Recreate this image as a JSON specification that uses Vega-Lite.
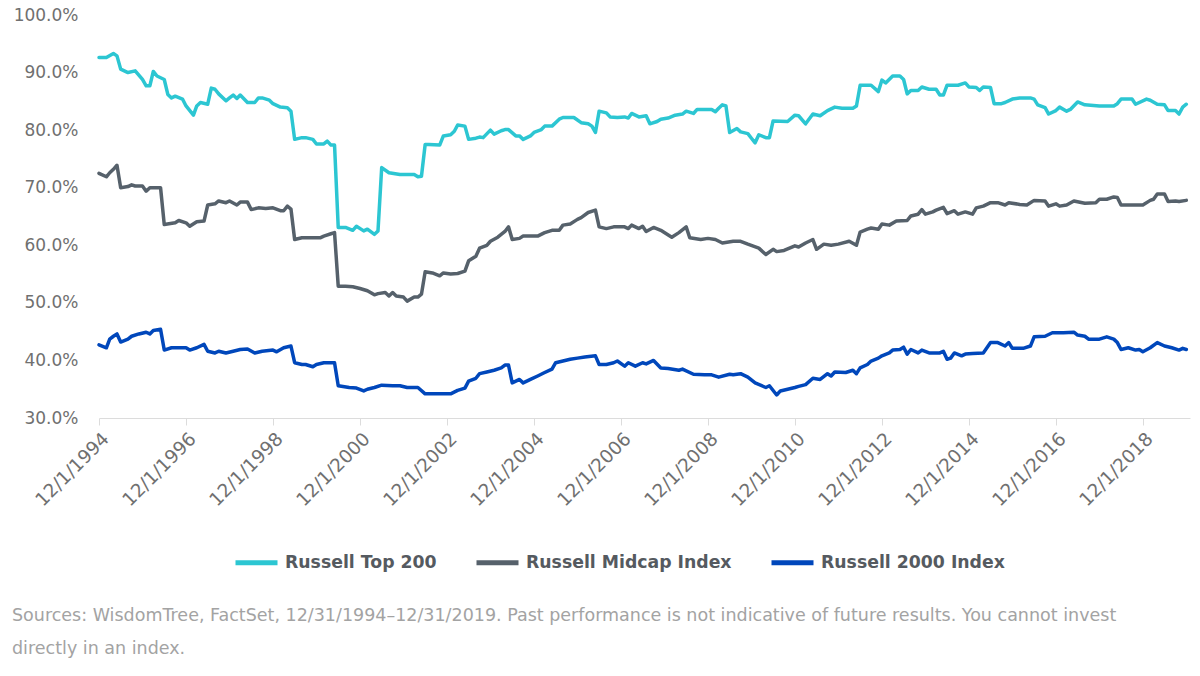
{
  "$schema": "https://vega.github.io/schema/vega-lite/v6.json",
  "width": 1091,
  "height": 403,
  "autosize": "none",
  "padding": {"left": 99, "top": 15, "right": 10, "bottom": 258},
  "background": "#ffffff",
  "config": {
    "view": {"stroke": null},
    "font": "DejaVu Sans"
  },
  "title": {
    "text": ["Sources: WisdomTree, FactSet, 12/31/1994–12/31/2019. Past performance is not indicative of future results. You cannot invest", "directly in an index."],
    "orient": "bottom",
    "anchor": "start",
    "frame": "group",
    "font": "DejaVu Sans",
    "fontSize": 17.5,
    "fontWeight": "normal",
    "color": "#a3a3a3",
    "lineHeight": 33,
    "offset": 34,
    "dx": -87
  },
  "data": {
    "values": [
      {"s": "Russell Top 200", "d": "1994-12", "v": 92.6},
      {"s": "Russell Top 200", "d": "1995-02", "v": 92.6},
      {"s": "Russell Top 200", "d": "1995-04", "v": 93.3},
      {"s": "Russell Top 200", "d": "1995-05", "v": 92.9},
      {"s": "Russell Top 200", "d": "1995-06", "v": 90.6},
      {"s": "Russell Top 200", "d": "1995-08", "v": 90.0},
      {"s": "Russell Top 200", "d": "1995-10", "v": 90.3},
      {"s": "Russell Top 200", "d": "1995-12", "v": 88.8},
      {"s": "Russell Top 200", "d": "1996-01", "v": 87.7},
      {"s": "Russell Top 200", "d": "1996-02", "v": 87.7},
      {"s": "Russell Top 200", "d": "1996-03", "v": 90.2},
      {"s": "Russell Top 200", "d": "1996-04", "v": 89.4},
      {"s": "Russell Top 200", "d": "1996-06", "v": 88.8},
      {"s": "Russell Top 200", "d": "1996-07", "v": 86.2},
      {"s": "Russell Top 200", "d": "1996-08", "v": 85.6},
      {"s": "Russell Top 200", "d": "1996-09", "v": 85.9},
      {"s": "Russell Top 200", "d": "1996-11", "v": 85.4},
      {"s": "Russell Top 200", "d": "1996-12", "v": 84.2},
      {"s": "Russell Top 200", "d": "1997-02", "v": 82.6},
      {"s": "Russell Top 200", "d": "1997-03", "v": 84.2},
      {"s": "Russell Top 200", "d": "1997-04", "v": 84.8},
      {"s": "Russell Top 200", "d": "1997-06", "v": 84.5},
      {"s": "Russell Top 200", "d": "1997-07", "v": 87.3},
      {"s": "Russell Top 200", "d": "1997-08", "v": 87.1},
      {"s": "Russell Top 200", "d": "1997-09", "v": 86.3},
      {"s": "Russell Top 200", "d": "1997-11", "v": 85.1},
      {"s": "Russell Top 200", "d": "1997-12", "v": 85.6},
      {"s": "Russell Top 200", "d": "1998-01", "v": 86.1},
      {"s": "Russell Top 200", "d": "1998-02", "v": 85.5},
      {"s": "Russell Top 200", "d": "1998-03", "v": 86.1},
      {"s": "Russell Top 200", "d": "1998-05", "v": 84.8},
      {"s": "Russell Top 200", "d": "1998-07", "v": 84.8},
      {"s": "Russell Top 200", "d": "1998-08", "v": 85.6},
      {"s": "Russell Top 200", "d": "1998-09", "v": 85.6},
      {"s": "Russell Top 200", "d": "1998-11", "v": 85.2},
      {"s": "Russell Top 200", "d": "1998-12", "v": 84.6},
      {"s": "Russell Top 200", "d": "1999-02", "v": 84.0},
      {"s": "Russell Top 200", "d": "1999-04", "v": 83.9},
      {"s": "Russell Top 200", "d": "1999-05", "v": 83.3},
      {"s": "Russell Top 200", "d": "1999-06", "v": 78.4},
      {"s": "Russell Top 200", "d": "1999-08", "v": 78.7},
      {"s": "Russell Top 200", "d": "1999-09", "v": 78.7},
      {"s": "Russell Top 200", "d": "1999-11", "v": 78.4},
      {"s": "Russell Top 200", "d": "1999-12", "v": 77.6},
      {"s": "Russell Top 200", "d": "2000-02", "v": 77.6},
      {"s": "Russell Top 200", "d": "2000-03", "v": 78.1},
      {"s": "Russell Top 200", "d": "2000-04", "v": 77.4},
      {"s": "Russell Top 200", "d": "2000-05", "v": 77.4},
      {"s": "Russell Top 200", "d": "2000-06", "v": 63.1},
      {"s": "Russell Top 200", "d": "2000-08", "v": 63.1},
      {"s": "Russell Top 200", "d": "2000-10", "v": 62.6},
      {"s": "Russell Top 200", "d": "2000-11", "v": 63.3},
      {"s": "Russell Top 200", "d": "2001-01", "v": 62.5},
      {"s": "Russell Top 200", "d": "2001-02", "v": 62.8},
      {"s": "Russell Top 200", "d": "2001-04", "v": 61.9},
      {"s": "Russell Top 200", "d": "2001-05", "v": 62.5},
      {"s": "Russell Top 200", "d": "2001-06", "v": 73.5},
      {"s": "Russell Top 200", "d": "2001-08", "v": 72.6},
      {"s": "Russell Top 200", "d": "2001-11", "v": 72.3},
      {"s": "Russell Top 200", "d": "2002-03", "v": 72.3},
      {"s": "Russell Top 200", "d": "2002-04", "v": 71.9},
      {"s": "Russell Top 200", "d": "2002-05", "v": 72.0},
      {"s": "Russell Top 200", "d": "2002-06", "v": 77.5},
      {"s": "Russell Top 200", "d": "2002-07", "v": 77.5},
      {"s": "Russell Top 200", "d": "2002-10", "v": 77.4},
      {"s": "Russell Top 200", "d": "2002-11", "v": 79.0},
      {"s": "Russell Top 200", "d": "2003-01", "v": 79.2},
      {"s": "Russell Top 200", "d": "2003-02", "v": 79.8},
      {"s": "Russell Top 200", "d": "2003-03", "v": 80.9},
      {"s": "Russell Top 200", "d": "2003-05", "v": 80.7},
      {"s": "Russell Top 200", "d": "2003-06", "v": 78.4},
      {"s": "Russell Top 200", "d": "2003-08", "v": 78.6},
      {"s": "Russell Top 200", "d": "2003-09", "v": 78.8},
      {"s": "Russell Top 200", "d": "2003-10", "v": 78.7},
      {"s": "Russell Top 200", "d": "2003-12", "v": 80.0},
      {"s": "Russell Top 200", "d": "2004-01", "v": 79.3},
      {"s": "Russell Top 200", "d": "2004-03", "v": 79.9},
      {"s": "Russell Top 200", "d": "2004-04", "v": 80.1},
      {"s": "Russell Top 200", "d": "2004-05", "v": 80.1},
      {"s": "Russell Top 200", "d": "2004-07", "v": 79.0},
      {"s": "Russell Top 200", "d": "2004-08", "v": 79.0},
      {"s": "Russell Top 200", "d": "2004-09", "v": 78.4},
      {"s": "Russell Top 200", "d": "2004-11", "v": 79.0},
      {"s": "Russell Top 200", "d": "2004-12", "v": 79.6},
      {"s": "Russell Top 200", "d": "2005-02", "v": 80.1},
      {"s": "Russell Top 200", "d": "2005-03", "v": 80.7},
      {"s": "Russell Top 200", "d": "2005-05", "v": 80.7},
      {"s": "Russell Top 200", "d": "2005-07", "v": 81.9},
      {"s": "Russell Top 200", "d": "2005-08", "v": 82.2},
      {"s": "Russell Top 200", "d": "2005-11", "v": 82.2},
      {"s": "Russell Top 200", "d": "2006-01", "v": 81.3},
      {"s": "Russell Top 200", "d": "2006-03", "v": 81.1},
      {"s": "Russell Top 200", "d": "2006-04", "v": 80.7},
      {"s": "Russell Top 200", "d": "2006-05", "v": 79.6},
      {"s": "Russell Top 200", "d": "2006-06", "v": 83.3},
      {"s": "Russell Top 200", "d": "2006-08", "v": 83.0},
      {"s": "Russell Top 200", "d": "2006-09", "v": 82.3},
      {"s": "Russell Top 200", "d": "2006-11", "v": 82.2},
      {"s": "Russell Top 200", "d": "2007-01", "v": 82.3},
      {"s": "Russell Top 200", "d": "2007-02", "v": 82.1},
      {"s": "Russell Top 200", "d": "2007-03", "v": 82.9},
      {"s": "Russell Top 200", "d": "2007-05", "v": 82.3},
      {"s": "Russell Top 200", "d": "2007-07", "v": 82.5},
      {"s": "Russell Top 200", "d": "2007-08", "v": 81.1},
      {"s": "Russell Top 200", "d": "2007-10", "v": 81.5},
      {"s": "Russell Top 200", "d": "2007-11", "v": 81.9},
      {"s": "Russell Top 200", "d": "2008-01", "v": 82.1},
      {"s": "Russell Top 200", "d": "2008-03", "v": 82.6},
      {"s": "Russell Top 200", "d": "2008-05", "v": 82.8},
      {"s": "Russell Top 200", "d": "2008-06", "v": 83.3},
      {"s": "Russell Top 200", "d": "2008-08", "v": 82.9},
      {"s": "Russell Top 200", "d": "2008-09", "v": 83.6},
      {"s": "Russell Top 200", "d": "2009-01", "v": 83.6},
      {"s": "Russell Top 200", "d": "2009-02", "v": 83.2},
      {"s": "Russell Top 200", "d": "2009-03", "v": 83.8},
      {"s": "Russell Top 200", "d": "2009-04", "v": 84.4},
      {"s": "Russell Top 200", "d": "2009-05", "v": 84.2},
      {"s": "Russell Top 200", "d": "2009-06", "v": 79.6},
      {"s": "Russell Top 200", "d": "2009-08", "v": 80.3},
      {"s": "Russell Top 200", "d": "2009-09", "v": 79.7},
      {"s": "Russell Top 200", "d": "2009-11", "v": 79.4},
      {"s": "Russell Top 200", "d": "2009-12", "v": 78.6},
      {"s": "Russell Top 200", "d": "2010-01", "v": 77.8},
      {"s": "Russell Top 200", "d": "2010-02", "v": 79.2},
      {"s": "Russell Top 200", "d": "2010-04", "v": 78.7},
      {"s": "Russell Top 200", "d": "2010-05", "v": 78.7},
      {"s": "Russell Top 200", "d": "2010-06", "v": 81.6},
      {"s": "Russell Top 200", "d": "2010-10", "v": 81.5},
      {"s": "Russell Top 200", "d": "2010-12", "v": 82.6},
      {"s": "Russell Top 200", "d": "2011-01", "v": 82.5},
      {"s": "Russell Top 200", "d": "2011-03", "v": 81.1},
      {"s": "Russell Top 200", "d": "2011-05", "v": 82.8},
      {"s": "Russell Top 200", "d": "2011-07", "v": 82.5},
      {"s": "Russell Top 200", "d": "2011-09", "v": 83.4},
      {"s": "Russell Top 200", "d": "2011-11", "v": 84.0},
      {"s": "Russell Top 200", "d": "2012-01", "v": 83.8},
      {"s": "Russell Top 200", "d": "2012-04", "v": 83.8},
      {"s": "Russell Top 200", "d": "2012-05", "v": 84.2},
      {"s": "Russell Top 200", "d": "2012-06", "v": 87.8},
      {"s": "Russell Top 200", "d": "2012-09", "v": 87.8},
      {"s": "Russell Top 200", "d": "2012-11", "v": 86.7},
      {"s": "Russell Top 200", "d": "2012-12", "v": 88.7},
      {"s": "Russell Top 200", "d": "2013-01", "v": 88.2},
      {"s": "Russell Top 200", "d": "2013-03", "v": 89.4},
      {"s": "Russell Top 200", "d": "2013-05", "v": 89.4},
      {"s": "Russell Top 200", "d": "2013-06", "v": 88.8},
      {"s": "Russell Top 200", "d": "2013-07", "v": 86.3},
      {"s": "Russell Top 200", "d": "2013-08", "v": 86.9},
      {"s": "Russell Top 200", "d": "2013-10", "v": 86.9},
      {"s": "Russell Top 200", "d": "2013-11", "v": 87.5},
      {"s": "Russell Top 200", "d": "2014-01", "v": 87.1},
      {"s": "Russell Top 200", "d": "2014-03", "v": 87.1},
      {"s": "Russell Top 200", "d": "2014-04", "v": 86.1},
      {"s": "Russell Top 200", "d": "2014-05", "v": 86.1},
      {"s": "Russell Top 200", "d": "2014-06", "v": 87.8},
      {"s": "Russell Top 200", "d": "2014-09", "v": 87.8},
      {"s": "Russell Top 200", "d": "2014-11", "v": 88.2},
      {"s": "Russell Top 200", "d": "2014-12", "v": 87.5},
      {"s": "Russell Top 200", "d": "2015-02", "v": 87.4},
      {"s": "Russell Top 200", "d": "2015-03", "v": 86.9},
      {"s": "Russell Top 200", "d": "2015-04", "v": 87.5},
      {"s": "Russell Top 200", "d": "2015-06", "v": 87.4},
      {"s": "Russell Top 200", "d": "2015-07", "v": 84.6},
      {"s": "Russell Top 200", "d": "2015-09", "v": 84.6},
      {"s": "Russell Top 200", "d": "2015-10", "v": 84.8},
      {"s": "Russell Top 200", "d": "2015-12", "v": 85.4},
      {"s": "Russell Top 200", "d": "2016-02", "v": 85.6},
      {"s": "Russell Top 200", "d": "2016-05", "v": 85.6},
      {"s": "Russell Top 200", "d": "2016-06", "v": 85.4},
      {"s": "Russell Top 200", "d": "2016-07", "v": 84.4},
      {"s": "Russell Top 200", "d": "2016-09", "v": 83.9},
      {"s": "Russell Top 200", "d": "2016-10", "v": 82.8},
      {"s": "Russell Top 200", "d": "2016-12", "v": 83.4},
      {"s": "Russell Top 200", "d": "2017-01", "v": 84.0},
      {"s": "Russell Top 200", "d": "2017-03", "v": 83.3},
      {"s": "Russell Top 200", "d": "2017-04", "v": 83.6},
      {"s": "Russell Top 200", "d": "2017-06", "v": 84.9},
      {"s": "Russell Top 200", "d": "2017-08", "v": 84.4},
      {"s": "Russell Top 200", "d": "2017-12", "v": 84.2},
      {"s": "Russell Top 200", "d": "2018-04", "v": 84.2},
      {"s": "Russell Top 200", "d": "2018-05", "v": 84.6},
      {"s": "Russell Top 200", "d": "2018-06", "v": 85.4},
      {"s": "Russell Top 200", "d": "2018-09", "v": 85.4},
      {"s": "Russell Top 200", "d": "2018-10", "v": 84.5},
      {"s": "Russell Top 200", "d": "2019-01", "v": 85.4},
      {"s": "Russell Top 200", "d": "2019-02", "v": 85.2},
      {"s": "Russell Top 200", "d": "2019-04", "v": 84.5},
      {"s": "Russell Top 200", "d": "2019-06", "v": 84.4},
      {"s": "Russell Top 200", "d": "2019-07", "v": 83.4},
      {"s": "Russell Top 200", "d": "2019-09", "v": 83.4},
      {"s": "Russell Top 200", "d": "2019-10", "v": 82.8},
      {"s": "Russell Top 200", "d": "2019-11", "v": 84.0},
      {"s": "Russell Top 200", "d": "2019-12", "v": 84.5},

      {"s": "Russell Midcap Index", "d": "1994-12", "v": 72.5},
      {"s": "Russell Midcap Index", "d": "1995-02", "v": 71.9},
      {"s": "Russell Midcap Index", "d": "1995-03", "v": 72.6},
      {"s": "Russell Midcap Index", "d": "1995-04", "v": 73.2},
      {"s": "Russell Midcap Index", "d": "1995-05", "v": 73.9},
      {"s": "Russell Midcap Index", "d": "1995-06", "v": 70.0},
      {"s": "Russell Midcap Index", "d": "1995-08", "v": 70.2},
      {"s": "Russell Midcap Index", "d": "1995-09", "v": 70.5},
      {"s": "Russell Midcap Index", "d": "1995-10", "v": 70.3},
      {"s": "Russell Midcap Index", "d": "1995-12", "v": 70.3},
      {"s": "Russell Midcap Index", "d": "1996-01", "v": 69.4},
      {"s": "Russell Midcap Index", "d": "1996-02", "v": 70.0},
      {"s": "Russell Midcap Index", "d": "1996-05", "v": 70.0},
      {"s": "Russell Midcap Index", "d": "1996-06", "v": 63.6},
      {"s": "Russell Midcap Index", "d": "1996-09", "v": 63.9},
      {"s": "Russell Midcap Index", "d": "1996-10", "v": 64.3},
      {"s": "Russell Midcap Index", "d": "1996-12", "v": 63.9},
      {"s": "Russell Midcap Index", "d": "1997-01", "v": 63.3},
      {"s": "Russell Midcap Index", "d": "1997-03", "v": 64.1},
      {"s": "Russell Midcap Index", "d": "1997-05", "v": 64.2},
      {"s": "Russell Midcap Index", "d": "1997-06", "v": 67.0},
      {"s": "Russell Midcap Index", "d": "1997-08", "v": 67.2},
      {"s": "Russell Midcap Index", "d": "1997-09", "v": 67.7},
      {"s": "Russell Midcap Index", "d": "1997-11", "v": 67.4},
      {"s": "Russell Midcap Index", "d": "1997-12", "v": 67.7},
      {"s": "Russell Midcap Index", "d": "1998-02", "v": 67.0},
      {"s": "Russell Midcap Index", "d": "1998-03", "v": 67.5},
      {"s": "Russell Midcap Index", "d": "1998-05", "v": 67.5},
      {"s": "Russell Midcap Index", "d": "1998-06", "v": 66.2},
      {"s": "Russell Midcap Index", "d": "1998-08", "v": 66.5},
      {"s": "Russell Midcap Index", "d": "1998-10", "v": 66.4},
      {"s": "Russell Midcap Index", "d": "1998-12", "v": 66.5},
      {"s": "Russell Midcap Index", "d": "1999-02", "v": 66.0},
      {"s": "Russell Midcap Index", "d": "1999-03", "v": 66.0},
      {"s": "Russell Midcap Index", "d": "1999-04", "v": 66.8},
      {"s": "Russell Midcap Index", "d": "1999-05", "v": 66.3},
      {"s": "Russell Midcap Index", "d": "1999-06", "v": 61.0},
      {"s": "Russell Midcap Index", "d": "1999-08", "v": 61.3},
      {"s": "Russell Midcap Index", "d": "2000-01", "v": 61.3},
      {"s": "Russell Midcap Index", "d": "2000-02", "v": 61.6},
      {"s": "Russell Midcap Index", "d": "2000-04", "v": 62.0},
      {"s": "Russell Midcap Index", "d": "2000-05", "v": 62.2},
      {"s": "Russell Midcap Index", "d": "2000-06", "v": 52.9},
      {"s": "Russell Midcap Index", "d": "2000-08", "v": 52.9},
      {"s": "Russell Midcap Index", "d": "2000-10", "v": 52.8},
      {"s": "Russell Midcap Index", "d": "2000-12", "v": 52.5},
      {"s": "Russell Midcap Index", "d": "2001-02", "v": 52.1},
      {"s": "Russell Midcap Index", "d": "2001-04", "v": 51.4},
      {"s": "Russell Midcap Index", "d": "2001-05", "v": 51.6},
      {"s": "Russell Midcap Index", "d": "2001-07", "v": 51.8},
      {"s": "Russell Midcap Index", "d": "2001-08", "v": 51.2},
      {"s": "Russell Midcap Index", "d": "2001-09", "v": 51.8},
      {"s": "Russell Midcap Index", "d": "2001-10", "v": 51.2},
      {"s": "Russell Midcap Index", "d": "2001-12", "v": 51.0},
      {"s": "Russell Midcap Index", "d": "2002-01", "v": 50.3},
      {"s": "Russell Midcap Index", "d": "2002-03", "v": 51.0},
      {"s": "Russell Midcap Index", "d": "2002-04", "v": 51.0},
      {"s": "Russell Midcap Index", "d": "2002-05", "v": 51.5},
      {"s": "Russell Midcap Index", "d": "2002-06", "v": 55.4},
      {"s": "Russell Midcap Index", "d": "2002-08", "v": 55.2},
      {"s": "Russell Midcap Index", "d": "2002-10", "v": 54.7},
      {"s": "Russell Midcap Index", "d": "2002-11", "v": 55.2},
      {"s": "Russell Midcap Index", "d": "2003-01", "v": 55.0},
      {"s": "Russell Midcap Index", "d": "2003-03", "v": 55.1},
      {"s": "Russell Midcap Index", "d": "2003-05", "v": 55.5},
      {"s": "Russell Midcap Index", "d": "2003-06", "v": 57.3},
      {"s": "Russell Midcap Index", "d": "2003-08", "v": 58.1},
      {"s": "Russell Midcap Index", "d": "2003-09", "v": 59.5},
      {"s": "Russell Midcap Index", "d": "2003-11", "v": 60.0},
      {"s": "Russell Midcap Index", "d": "2003-12", "v": 60.7},
      {"s": "Russell Midcap Index", "d": "2004-02", "v": 61.4},
      {"s": "Russell Midcap Index", "d": "2004-04", "v": 62.4},
      {"s": "Russell Midcap Index", "d": "2004-05", "v": 63.2},
      {"s": "Russell Midcap Index", "d": "2004-06", "v": 61.0},
      {"s": "Russell Midcap Index", "d": "2004-08", "v": 61.2},
      {"s": "Russell Midcap Index", "d": "2004-09", "v": 61.6},
      {"s": "Russell Midcap Index", "d": "2005-01", "v": 61.6},
      {"s": "Russell Midcap Index", "d": "2005-03", "v": 62.2},
      {"s": "Russell Midcap Index", "d": "2005-05", "v": 62.6},
      {"s": "Russell Midcap Index", "d": "2005-07", "v": 62.6},
      {"s": "Russell Midcap Index", "d": "2005-08", "v": 63.5},
      {"s": "Russell Midcap Index", "d": "2005-10", "v": 63.7},
      {"s": "Russell Midcap Index", "d": "2005-12", "v": 64.5},
      {"s": "Russell Midcap Index", "d": "2006-01", "v": 64.8},
      {"s": "Russell Midcap Index", "d": "2006-03", "v": 65.7},
      {"s": "Russell Midcap Index", "d": "2006-05", "v": 66.1},
      {"s": "Russell Midcap Index", "d": "2006-06", "v": 63.2},
      {"s": "Russell Midcap Index", "d": "2006-08", "v": 62.9},
      {"s": "Russell Midcap Index", "d": "2006-10", "v": 63.2},
      {"s": "Russell Midcap Index", "d": "2007-01", "v": 63.2},
      {"s": "Russell Midcap Index", "d": "2007-02", "v": 62.9},
      {"s": "Russell Midcap Index", "d": "2007-03", "v": 63.5},
      {"s": "Russell Midcap Index", "d": "2007-05", "v": 62.9},
      {"s": "Russell Midcap Index", "d": "2007-06", "v": 63.3},
      {"s": "Russell Midcap Index", "d": "2007-07", "v": 62.4},
      {"s": "Russell Midcap Index", "d": "2007-09", "v": 63.1},
      {"s": "Russell Midcap Index", "d": "2007-11", "v": 62.6},
      {"s": "Russell Midcap Index", "d": "2008-02", "v": 61.4},
      {"s": "Russell Midcap Index", "d": "2008-04", "v": 62.2},
      {"s": "Russell Midcap Index", "d": "2008-06", "v": 63.2},
      {"s": "Russell Midcap Index", "d": "2008-07", "v": 61.3},
      {"s": "Russell Midcap Index", "d": "2008-10", "v": 61.0},
      {"s": "Russell Midcap Index", "d": "2008-12", "v": 61.2},
      {"s": "Russell Midcap Index", "d": "2009-02", "v": 61.0},
      {"s": "Russell Midcap Index", "d": "2009-04", "v": 60.4},
      {"s": "Russell Midcap Index", "d": "2009-07", "v": 60.7},
      {"s": "Russell Midcap Index", "d": "2009-09", "v": 60.7},
      {"s": "Russell Midcap Index", "d": "2009-11", "v": 60.2},
      {"s": "Russell Midcap Index", "d": "2010-02", "v": 59.5},
      {"s": "Russell Midcap Index", "d": "2010-04", "v": 58.4},
      {"s": "Russell Midcap Index", "d": "2010-06", "v": 59.3},
      {"s": "Russell Midcap Index", "d": "2010-07", "v": 58.9},
      {"s": "Russell Midcap Index", "d": "2010-09", "v": 59.1},
      {"s": "Russell Midcap Index", "d": "2010-12", "v": 59.9},
      {"s": "Russell Midcap Index", "d": "2011-01", "v": 59.7},
      {"s": "Russell Midcap Index", "d": "2011-03", "v": 60.4},
      {"s": "Russell Midcap Index", "d": "2011-05", "v": 61.0},
      {"s": "Russell Midcap Index", "d": "2011-06", "v": 59.3},
      {"s": "Russell Midcap Index", "d": "2011-08", "v": 60.2},
      {"s": "Russell Midcap Index", "d": "2011-10", "v": 60.0},
      {"s": "Russell Midcap Index", "d": "2011-12", "v": 60.2},
      {"s": "Russell Midcap Index", "d": "2012-03", "v": 60.7},
      {"s": "Russell Midcap Index", "d": "2012-05", "v": 60.0},
      {"s": "Russell Midcap Index", "d": "2012-06", "v": 62.3},
      {"s": "Russell Midcap Index", "d": "2012-08", "v": 62.8},
      {"s": "Russell Midcap Index", "d": "2012-09", "v": 63.0},
      {"s": "Russell Midcap Index", "d": "2012-11", "v": 62.8},
      {"s": "Russell Midcap Index", "d": "2012-12", "v": 63.7},
      {"s": "Russell Midcap Index", "d": "2013-02", "v": 63.5},
      {"s": "Russell Midcap Index", "d": "2013-04", "v": 64.2},
      {"s": "Russell Midcap Index", "d": "2013-07", "v": 64.3},
      {"s": "Russell Midcap Index", "d": "2013-08", "v": 65.1},
      {"s": "Russell Midcap Index", "d": "2013-10", "v": 65.4},
      {"s": "Russell Midcap Index", "d": "2013-11", "v": 66.2},
      {"s": "Russell Midcap Index", "d": "2013-12", "v": 65.4},
      {"s": "Russell Midcap Index", "d": "2014-02", "v": 65.8},
      {"s": "Russell Midcap Index", "d": "2014-03", "v": 66.1},
      {"s": "Russell Midcap Index", "d": "2014-05", "v": 66.6},
      {"s": "Russell Midcap Index", "d": "2014-06", "v": 65.5},
      {"s": "Russell Midcap Index", "d": "2014-08", "v": 66.0},
      {"s": "Russell Midcap Index", "d": "2014-09", "v": 65.4},
      {"s": "Russell Midcap Index", "d": "2014-11", "v": 65.8},
      {"s": "Russell Midcap Index", "d": "2015-01", "v": 65.4},
      {"s": "Russell Midcap Index", "d": "2015-02", "v": 66.5},
      {"s": "Russell Midcap Index", "d": "2015-04", "v": 66.8},
      {"s": "Russell Midcap Index", "d": "2015-06", "v": 67.4},
      {"s": "Russell Midcap Index", "d": "2015-08", "v": 67.4},
      {"s": "Russell Midcap Index", "d": "2015-10", "v": 67.0},
      {"s": "Russell Midcap Index", "d": "2015-11", "v": 67.4},
      {"s": "Russell Midcap Index", "d": "2016-02", "v": 67.1},
      {"s": "Russell Midcap Index", "d": "2016-04", "v": 67.0},
      {"s": "Russell Midcap Index", "d": "2016-06", "v": 67.8},
      {"s": "Russell Midcap Index", "d": "2016-09", "v": 67.7},
      {"s": "Russell Midcap Index", "d": "2016-10", "v": 66.8},
      {"s": "Russell Midcap Index", "d": "2016-12", "v": 67.2},
      {"s": "Russell Midcap Index", "d": "2017-01", "v": 66.8},
      {"s": "Russell Midcap Index", "d": "2017-03", "v": 67.0},
      {"s": "Russell Midcap Index", "d": "2017-05", "v": 67.7},
      {"s": "Russell Midcap Index", "d": "2017-08", "v": 67.3},
      {"s": "Russell Midcap Index", "d": "2017-11", "v": 67.4},
      {"s": "Russell Midcap Index", "d": "2017-12", "v": 68.0},
      {"s": "Russell Midcap Index", "d": "2018-02", "v": 68.0},
      {"s": "Russell Midcap Index", "d": "2018-04", "v": 68.4},
      {"s": "Russell Midcap Index", "d": "2018-05", "v": 68.3},
      {"s": "Russell Midcap Index", "d": "2018-06", "v": 67.0},
      {"s": "Russell Midcap Index", "d": "2018-12", "v": 67.0},
      {"s": "Russell Midcap Index", "d": "2019-02", "v": 67.8},
      {"s": "Russell Midcap Index", "d": "2019-03", "v": 68.0},
      {"s": "Russell Midcap Index", "d": "2019-04", "v": 68.9},
      {"s": "Russell Midcap Index", "d": "2019-06", "v": 68.9},
      {"s": "Russell Midcap Index", "d": "2019-07", "v": 67.6},
      {"s": "Russell Midcap Index", "d": "2019-09", "v": 67.7},
      {"s": "Russell Midcap Index", "d": "2019-10", "v": 67.6},
      {"s": "Russell Midcap Index", "d": "2019-12", "v": 67.8},

      {"s": "Russell 2000 Index", "d": "1994-12", "v": 42.7},
      {"s": "Russell 2000 Index", "d": "1995-02", "v": 42.2},
      {"s": "Russell 2000 Index", "d": "1995-03", "v": 43.7},
      {"s": "Russell 2000 Index", "d": "1995-04", "v": 44.2},
      {"s": "Russell 2000 Index", "d": "1995-05", "v": 44.6},
      {"s": "Russell 2000 Index", "d": "1995-06", "v": 43.2},
      {"s": "Russell 2000 Index", "d": "1995-08", "v": 43.7},
      {"s": "Russell 2000 Index", "d": "1995-09", "v": 44.2},
      {"s": "Russell 2000 Index", "d": "1995-11", "v": 44.6},
      {"s": "Russell 2000 Index", "d": "1996-01", "v": 44.9},
      {"s": "Russell 2000 Index", "d": "1996-02", "v": 44.6},
      {"s": "Russell 2000 Index", "d": "1996-03", "v": 45.2},
      {"s": "Russell 2000 Index", "d": "1996-05", "v": 45.4},
      {"s": "Russell 2000 Index", "d": "1996-06", "v": 41.8},
      {"s": "Russell 2000 Index", "d": "1996-08", "v": 42.2},
      {"s": "Russell 2000 Index", "d": "1996-10", "v": 42.2},
      {"s": "Russell 2000 Index", "d": "1996-12", "v": 42.2},
      {"s": "Russell 2000 Index", "d": "1997-01", "v": 41.8},
      {"s": "Russell 2000 Index", "d": "1997-03", "v": 42.2},
      {"s": "Russell 2000 Index", "d": "1997-05", "v": 42.8},
      {"s": "Russell 2000 Index", "d": "1997-06", "v": 41.6},
      {"s": "Russell 2000 Index", "d": "1997-08", "v": 41.3},
      {"s": "Russell 2000 Index", "d": "1997-09", "v": 41.6},
      {"s": "Russell 2000 Index", "d": "1997-11", "v": 41.3},
      {"s": "Russell 2000 Index", "d": "1998-01", "v": 41.6},
      {"s": "Russell 2000 Index", "d": "1998-03", "v": 41.9},
      {"s": "Russell 2000 Index", "d": "1998-05", "v": 42.0},
      {"s": "Russell 2000 Index", "d": "1998-07", "v": 41.3},
      {"s": "Russell 2000 Index", "d": "1998-09", "v": 41.6},
      {"s": "Russell 2000 Index", "d": "1998-12", "v": 41.8},
      {"s": "Russell 2000 Index", "d": "1999-01", "v": 41.5},
      {"s": "Russell 2000 Index", "d": "1999-03", "v": 42.2},
      {"s": "Russell 2000 Index", "d": "1999-05", "v": 42.5},
      {"s": "Russell 2000 Index", "d": "1999-06", "v": 39.6},
      {"s": "Russell 2000 Index", "d": "1999-08", "v": 39.3},
      {"s": "Russell 2000 Index", "d": "1999-09", "v": 39.3},
      {"s": "Russell 2000 Index", "d": "1999-11", "v": 38.9},
      {"s": "Russell 2000 Index", "d": "1999-12", "v": 39.3},
      {"s": "Russell 2000 Index", "d": "2000-02", "v": 39.6},
      {"s": "Russell 2000 Index", "d": "2000-05", "v": 39.6},
      {"s": "Russell 2000 Index", "d": "2000-06", "v": 35.6},
      {"s": "Russell 2000 Index", "d": "2000-09", "v": 35.3},
      {"s": "Russell 2000 Index", "d": "2000-11", "v": 35.2},
      {"s": "Russell 2000 Index", "d": "2001-01", "v": 34.7},
      {"s": "Russell 2000 Index", "d": "2001-02", "v": 35.0},
      {"s": "Russell 2000 Index", "d": "2001-04", "v": 35.3},
      {"s": "Russell 2000 Index", "d": "2001-06", "v": 35.7},
      {"s": "Russell 2000 Index", "d": "2001-09", "v": 35.6},
      {"s": "Russell 2000 Index", "d": "2001-11", "v": 35.6},
      {"s": "Russell 2000 Index", "d": "2002-01", "v": 35.3},
      {"s": "Russell 2000 Index", "d": "2002-04", "v": 35.3},
      {"s": "Russell 2000 Index", "d": "2002-06", "v": 34.2},
      {"s": "Russell 2000 Index", "d": "2003-01", "v": 34.2},
      {"s": "Russell 2000 Index", "d": "2003-03", "v": 34.8},
      {"s": "Russell 2000 Index", "d": "2003-05", "v": 35.2},
      {"s": "Russell 2000 Index", "d": "2003-06", "v": 36.4},
      {"s": "Russell 2000 Index", "d": "2003-08", "v": 36.9},
      {"s": "Russell 2000 Index", "d": "2003-09", "v": 37.7},
      {"s": "Russell 2000 Index", "d": "2003-11", "v": 38.0},
      {"s": "Russell 2000 Index", "d": "2004-01", "v": 38.3},
      {"s": "Russell 2000 Index", "d": "2004-03", "v": 38.7},
      {"s": "Russell 2000 Index", "d": "2004-04", "v": 39.2},
      {"s": "Russell 2000 Index", "d": "2004-05", "v": 39.2},
      {"s": "Russell 2000 Index", "d": "2004-06", "v": 36.1},
      {"s": "Russell 2000 Index", "d": "2004-08", "v": 36.7},
      {"s": "Russell 2000 Index", "d": "2004-09", "v": 36.1},
      {"s": "Russell 2000 Index", "d": "2004-11", "v": 36.7},
      {"s": "Russell 2000 Index", "d": "2005-01", "v": 37.3},
      {"s": "Russell 2000 Index", "d": "2005-03", "v": 37.9},
      {"s": "Russell 2000 Index", "d": "2005-05", "v": 38.5},
      {"s": "Russell 2000 Index", "d": "2005-06", "v": 39.6},
      {"s": "Russell 2000 Index", "d": "2005-08", "v": 39.9},
      {"s": "Russell 2000 Index", "d": "2005-10", "v": 40.2},
      {"s": "Russell 2000 Index", "d": "2005-12", "v": 40.4},
      {"s": "Russell 2000 Index", "d": "2006-02", "v": 40.6},
      {"s": "Russell 2000 Index", "d": "2006-05", "v": 40.8},
      {"s": "Russell 2000 Index", "d": "2006-06", "v": 39.3},
      {"s": "Russell 2000 Index", "d": "2006-08", "v": 39.3},
      {"s": "Russell 2000 Index", "d": "2006-10", "v": 39.6},
      {"s": "Russell 2000 Index", "d": "2006-11", "v": 39.9},
      {"s": "Russell 2000 Index", "d": "2007-01", "v": 39.0},
      {"s": "Russell 2000 Index", "d": "2007-02", "v": 39.6},
      {"s": "Russell 2000 Index", "d": "2007-04", "v": 39.0},
      {"s": "Russell 2000 Index", "d": "2007-06", "v": 39.6},
      {"s": "Russell 2000 Index", "d": "2007-07", "v": 39.4},
      {"s": "Russell 2000 Index", "d": "2007-09", "v": 40.0},
      {"s": "Russell 2000 Index", "d": "2007-11", "v": 38.7},
      {"s": "Russell 2000 Index", "d": "2008-01", "v": 38.6},
      {"s": "Russell 2000 Index", "d": "2008-04", "v": 38.3},
      {"s": "Russell 2000 Index", "d": "2008-05", "v": 38.5},
      {"s": "Russell 2000 Index", "d": "2008-08", "v": 37.6},
      {"s": "Russell 2000 Index", "d": "2008-11", "v": 37.5},
      {"s": "Russell 2000 Index", "d": "2009-01", "v": 37.5},
      {"s": "Russell 2000 Index", "d": "2009-03", "v": 37.1},
      {"s": "Russell 2000 Index", "d": "2009-06", "v": 37.6},
      {"s": "Russell 2000 Index", "d": "2009-07", "v": 37.5},
      {"s": "Russell 2000 Index", "d": "2009-09", "v": 37.7},
      {"s": "Russell 2000 Index", "d": "2009-11", "v": 37.1},
      {"s": "Russell 2000 Index", "d": "2010-01", "v": 36.1},
      {"s": "Russell 2000 Index", "d": "2010-04", "v": 35.3},
      {"s": "Russell 2000 Index", "d": "2010-05", "v": 35.6},
      {"s": "Russell 2000 Index", "d": "2010-07", "v": 34.0},
      {"s": "Russell 2000 Index", "d": "2010-08", "v": 34.7},
      {"s": "Russell 2000 Index", "d": "2010-10", "v": 35.0},
      {"s": "Russell 2000 Index", "d": "2010-12", "v": 35.3},
      {"s": "Russell 2000 Index", "d": "2011-01", "v": 35.5},
      {"s": "Russell 2000 Index", "d": "2011-03", "v": 35.8},
      {"s": "Russell 2000 Index", "d": "2011-05", "v": 36.9},
      {"s": "Russell 2000 Index", "d": "2011-07", "v": 36.7},
      {"s": "Russell 2000 Index", "d": "2011-09", "v": 37.7},
      {"s": "Russell 2000 Index", "d": "2011-10", "v": 37.3},
      {"s": "Russell 2000 Index", "d": "2011-11", "v": 38.0},
      {"s": "Russell 2000 Index", "d": "2012-02", "v": 37.9},
      {"s": "Russell 2000 Index", "d": "2012-04", "v": 38.3},
      {"s": "Russell 2000 Index", "d": "2012-05", "v": 37.7},
      {"s": "Russell 2000 Index", "d": "2012-06", "v": 38.7},
      {"s": "Russell 2000 Index", "d": "2012-08", "v": 39.3},
      {"s": "Russell 2000 Index", "d": "2012-09", "v": 39.9},
      {"s": "Russell 2000 Index", "d": "2012-11", "v": 40.4},
      {"s": "Russell 2000 Index", "d": "2012-12", "v": 40.8},
      {"s": "Russell 2000 Index", "d": "2013-02", "v": 41.3},
      {"s": "Russell 2000 Index", "d": "2013-03", "v": 41.8},
      {"s": "Russell 2000 Index", "d": "2013-05", "v": 41.9},
      {"s": "Russell 2000 Index", "d": "2013-06", "v": 42.3},
      {"s": "Russell 2000 Index", "d": "2013-07", "v": 41.1},
      {"s": "Russell 2000 Index", "d": "2013-08", "v": 41.9},
      {"s": "Russell 2000 Index", "d": "2013-10", "v": 41.3},
      {"s": "Russell 2000 Index", "d": "2013-11", "v": 41.8},
      {"s": "Russell 2000 Index", "d": "2014-01", "v": 41.3},
      {"s": "Russell 2000 Index", "d": "2014-04", "v": 41.3},
      {"s": "Russell 2000 Index", "d": "2014-05", "v": 41.6},
      {"s": "Russell 2000 Index", "d": "2014-06", "v": 40.2},
      {"s": "Russell 2000 Index", "d": "2014-07", "v": 40.4},
      {"s": "Russell 2000 Index", "d": "2014-08", "v": 41.3},
      {"s": "Russell 2000 Index", "d": "2014-10", "v": 40.8},
      {"s": "Russell 2000 Index", "d": "2014-11", "v": 41.1},
      {"s": "Russell 2000 Index", "d": "2015-01", "v": 41.2},
      {"s": "Russell 2000 Index", "d": "2015-04", "v": 41.3},
      {"s": "Russell 2000 Index", "d": "2015-06", "v": 43.1},
      {"s": "Russell 2000 Index", "d": "2015-08", "v": 43.1},
      {"s": "Russell 2000 Index", "d": "2015-10", "v": 42.5},
      {"s": "Russell 2000 Index", "d": "2015-11", "v": 43.1},
      {"s": "Russell 2000 Index", "d": "2015-12", "v": 42.1},
      {"s": "Russell 2000 Index", "d": "2016-03", "v": 42.1},
      {"s": "Russell 2000 Index", "d": "2016-05", "v": 42.5},
      {"s": "Russell 2000 Index", "d": "2016-06", "v": 44.1},
      {"s": "Russell 2000 Index", "d": "2016-09", "v": 44.2},
      {"s": "Russell 2000 Index", "d": "2016-11", "v": 44.8},
      {"s": "Russell 2000 Index", "d": "2017-02", "v": 44.8},
      {"s": "Russell 2000 Index", "d": "2017-05", "v": 44.9},
      {"s": "Russell 2000 Index", "d": "2017-06", "v": 44.4},
      {"s": "Russell 2000 Index", "d": "2017-08", "v": 44.2},
      {"s": "Russell 2000 Index", "d": "2017-09", "v": 43.7},
      {"s": "Russell 2000 Index", "d": "2017-12", "v": 43.7},
      {"s": "Russell 2000 Index", "d": "2018-02", "v": 44.1},
      {"s": "Russell 2000 Index", "d": "2018-04", "v": 43.7},
      {"s": "Russell 2000 Index", "d": "2018-05", "v": 43.1},
      {"s": "Russell 2000 Index", "d": "2018-06", "v": 41.9},
      {"s": "Russell 2000 Index", "d": "2018-08", "v": 42.2},
      {"s": "Russell 2000 Index", "d": "2018-10", "v": 41.8},
      {"s": "Russell 2000 Index", "d": "2018-11", "v": 41.9},
      {"s": "Russell 2000 Index", "d": "2018-12", "v": 41.5},
      {"s": "Russell 2000 Index", "d": "2019-02", "v": 42.2},
      {"s": "Russell 2000 Index", "d": "2019-04", "v": 43.1},
      {"s": "Russell 2000 Index", "d": "2019-06", "v": 42.5},
      {"s": "Russell 2000 Index", "d": "2019-08", "v": 42.2},
      {"s": "Russell 2000 Index", "d": "2019-10", "v": 41.8},
      {"s": "Russell 2000 Index", "d": "2019-11", "v": 42.1},
      {"s": "Russell 2000 Index", "d": "2019-12", "v": 41.9}
    ]
  },
  "mark": {"type": "line", "strokeWidth": 3.5, "strokeJoin": "round", "strokeCap": "round"},
  "encoding": {
    "x": {
      "field": "d",
      "type": "temporal",
      "title": null,
      "scale": {
        "type": "utc",
        "domain": [
          {"year": 1994, "month": 12, "date": 1, "utc": true},
          {"year": 2020, "month": 1, "date": 1, "utc": true}
        ]
      },
      "axis": {
        "values": [
          {"year": 1994, "month": 12, "date": 1, "utc": true},
          {"year": 1996, "month": 12, "date": 1, "utc": true},
          {"year": 1998, "month": 12, "date": 1, "utc": true},
          {"year": 2000, "month": 12, "date": 1, "utc": true},
          {"year": 2002, "month": 12, "date": 1, "utc": true},
          {"year": 2004, "month": 12, "date": 1, "utc": true},
          {"year": 2006, "month": 12, "date": 1, "utc": true},
          {"year": 2008, "month": 12, "date": 1, "utc": true},
          {"year": 2010, "month": 12, "date": 1, "utc": true},
          {"year": 2012, "month": 12, "date": 1, "utc": true},
          {"year": 2014, "month": 12, "date": 1, "utc": true},
          {"year": 2016, "month": 12, "date": 1, "utc": true},
          {"year": 2018, "month": 12, "date": 1, "utc": true}
        ],
        "labelExpr": "utcFormat(datum.value, '%-m/%-d/%Y')",
        "labelAngle": -45,
        "labelFont": "DejaVu Sans",
        "labelFontSize": 18.5,
        "labelColor": "#707070",
        "labelPadding": 4,
        "labelFlush": false,
        "labelOverlap": false,
        "grid": false,
        "domainColor": "#dcdcdc",
        "tickColor": "#dcdcdc",
        "tickSize": 7
      }
    },
    "y": {
      "field": "v",
      "type": "quantitative",
      "title": null,
      "scale": {"domain": [30, 100], "nice": false, "zero": false},
      "axis": {
        "values": [30, 40, 50, 60, 70, 80, 90, 100],
        "labelExpr": "format(datum.value, '.1f') + '%'",
        "labelFont": "DejaVu Sans",
        "labelFontSize": 17,
        "labelColor": "#707070",
        "labelPadding": 21,
        "grid": false,
        "domain": false,
        "ticks": false
      }
    },
    "color": {
      "field": "s",
      "type": "nominal",
      "scale": {
        "domain": ["Russell Top 200", "Russell Midcap Index", "Russell 2000 Index"],
        "range": ["#2cc6d2", "#56616b", "#0047bb"]
      },
      "legend": {
        "title": null,
        "orient": "none",
        "legendX": 134,
        "legendY": 524,
        "padding": 0,
        "direction": "horizontal",
        "symbolType": "stroke",
        "symbolStrokeWidth": 5,
        "symbolSize": 1764,
        "labelFont": "DejaVu Sans",
        "labelFontSize": 17.3,
        "labelFontWeight": "bold",
        "labelColor": "#555a60",
        "labelOffset": 5,
        "labelLimit": 400,
        "columnPadding": 29
      }
    }
  }
}
